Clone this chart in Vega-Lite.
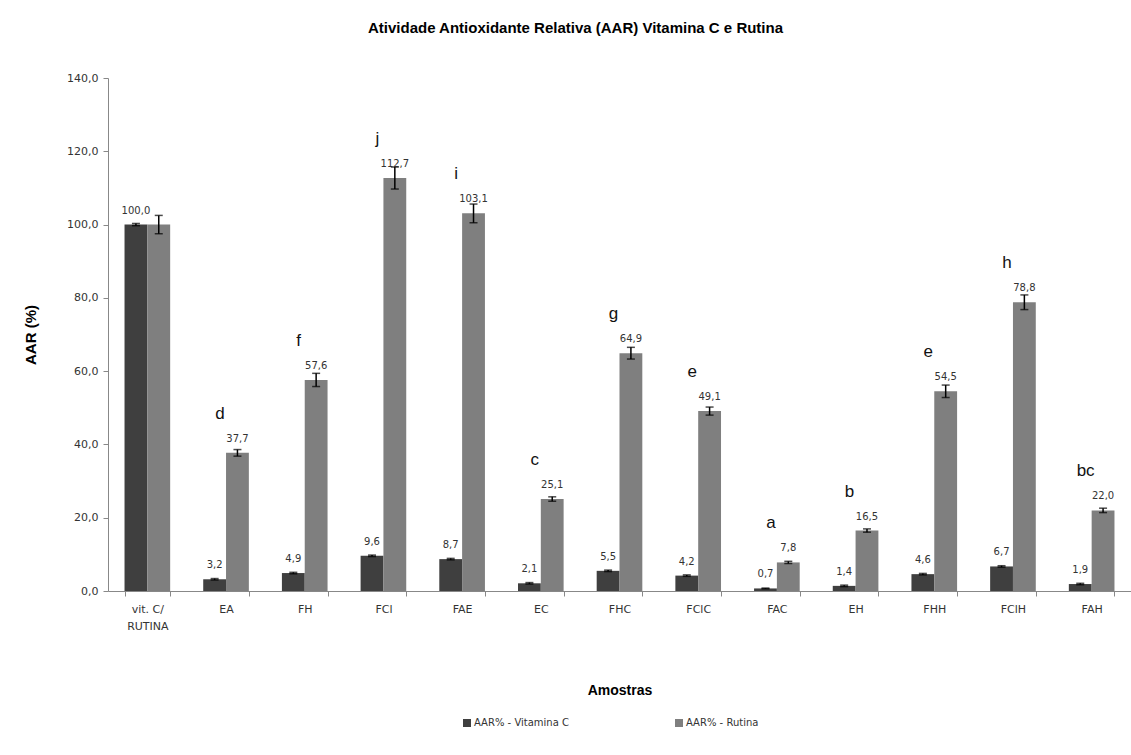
{
  "$schema": "https://vega.github.io/schema/vega-lite/v6.json",
  "autosize": {"type": "none"},
  "padding": {"left": 108, "top": 78, "right": 0, "bottom": 164},
  "width": 1023,
  "height": 513,
  "background": "white",
  "title": {
    "text": "Atividade Antioxidante Relativa (AAR) Vitamina C e Rutina",
    "font": "Liberation Sans",
    "fontSize": 15,
    "fontWeight": "bold",
    "color": "#000000",
    "anchor": "middle",
    "offset": 36,
    "dx": -44
  },
  "data": {
    "values": [
      {"amostra": "vit. C/ RUTINA", "serie": "AAR% - Vitamina C", "valor": 100.0, "lo": 99.7, "hi": 100.3, "rotulo": "100,0", "letra": null},
      {"amostra": "vit. C/ RUTINA", "serie": "AAR% - Rutina", "valor": 100.0, "lo": 97.5, "hi": 102.5, "rotulo": null, "letra": null},
      {"amostra": "EA", "serie": "AAR% - Vitamina C", "valor": 3.2, "lo": 3.0, "hi": 3.4, "rotulo": "3,2", "letra": null},
      {"amostra": "EA", "serie": "AAR% - Rutina", "valor": 37.7, "lo": 36.8, "hi": 38.6, "rotulo": "37,7", "letra": "d"},
      {"amostra": "FH", "serie": "AAR% - Vitamina C", "valor": 4.9, "lo": 4.7, "hi": 5.1, "rotulo": "4,9", "letra": null},
      {"amostra": "FH", "serie": "AAR% - Rutina", "valor": 57.6, "lo": 55.8, "hi": 59.4, "rotulo": "57,6", "letra": "f"},
      {"amostra": "FCl", "serie": "AAR% - Vitamina C", "valor": 9.6, "lo": 9.4, "hi": 9.8, "rotulo": "9,6", "letra": null},
      {"amostra": "FCl", "serie": "AAR% - Rutina", "valor": 112.7, "lo": 109.7, "hi": 115.7, "rotulo": "112,7", "letra": "j"},
      {"amostra": "FAE", "serie": "AAR% - Vitamina C", "valor": 8.7, "lo": 8.5, "hi": 8.9, "rotulo": "8,7", "letra": null},
      {"amostra": "FAE", "serie": "AAR% - Rutina", "valor": 103.1, "lo": 100.5, "hi": 105.6, "rotulo": "103,1", "letra": "i"},
      {"amostra": "EC", "serie": "AAR% - Vitamina C", "valor": 2.1, "lo": 1.9, "hi": 2.3, "rotulo": "2,1", "letra": null},
      {"amostra": "EC", "serie": "AAR% - Rutina", "valor": 25.1, "lo": 24.5, "hi": 25.7, "rotulo": "25,1", "letra": "c"},
      {"amostra": "FHC", "serie": "AAR% - Vitamina C", "valor": 5.5, "lo": 5.3, "hi": 5.7, "rotulo": "5,5", "letra": null},
      {"amostra": "FHC", "serie": "AAR% - Rutina", "valor": 64.9, "lo": 63.3, "hi": 66.5, "rotulo": "64,9", "letra": "g"},
      {"amostra": "FClC", "serie": "AAR% - Vitamina C", "valor": 4.2, "lo": 4.0, "hi": 4.4, "rotulo": "4,2", "letra": null},
      {"amostra": "FClC", "serie": "AAR% - Rutina", "valor": 49.1, "lo": 48.0, "hi": 50.2, "rotulo": "49,1", "letra": "e"},
      {"amostra": "FAC", "serie": "AAR% - Vitamina C", "valor": 0.7, "lo": 0.6, "hi": 0.8, "rotulo": "0,7", "letra": null},
      {"amostra": "FAC", "serie": "AAR% - Rutina", "valor": 7.8, "lo": 7.5, "hi": 8.1, "rotulo": "7,8", "letra": "a"},
      {"amostra": "EH", "serie": "AAR% - Vitamina C", "valor": 1.4, "lo": 1.2, "hi": 1.6, "rotulo": "1,4", "letra": null},
      {"amostra": "EH", "serie": "AAR% - Rutina", "valor": 16.5, "lo": 16.05, "hi": 16.95, "rotulo": "16,5", "letra": "b"},
      {"amostra": "FHH", "serie": "AAR% - Vitamina C", "valor": 4.6, "lo": 4.4, "hi": 4.8, "rotulo": "4,6", "letra": null},
      {"amostra": "FHH", "serie": "AAR% - Rutina", "valor": 54.5, "lo": 52.8, "hi": 56.2, "rotulo": "54,5", "letra": "e"},
      {"amostra": "FClH", "serie": "AAR% - Vitamina C", "valor": 6.7, "lo": 6.5, "hi": 6.9, "rotulo": "6,7", "letra": null},
      {"amostra": "FClH", "serie": "AAR% - Rutina", "valor": 78.8, "lo": 76.8, "hi": 80.8, "rotulo": "78,8", "letra": "h"},
      {"amostra": "FAH", "serie": "AAR% - Vitamina C", "valor": 1.9, "lo": 1.7, "hi": 2.1, "rotulo": "1,9", "letra": null},
      {"amostra": "FAH", "serie": "AAR% - Rutina", "valor": 22.0, "lo": 21.4, "hi": 22.6, "rotulo": "22,0", "letra": "bc"}
    ]
  },
  "encoding": {
    "x": {
      "field": "amostra",
      "type": "nominal",
      "sort": null,
      "scale": {"paddingInner": 0.42, "paddingOuter": 0.21},
      "axis": {
        "title": "Amostras",
        "titleFont": "Liberation Sans",
        "titleFontSize": 14,
        "titleFontWeight": "bold",
        "titleColor": "#000000",
        "titlePadding": 52,
        "labelAngle": 0,
        "labelFont": "DejaVu Sans",
        "labelFontSize": 11,
        "labelColor": "#333333",
        "labelPadding": 7,
        "labelLineHeight": 17,
        "labelExpr": "datum.label == 'vit. C/ RUTINA' ? ['vit. C/', 'RUTINA'] : datum.label",
        "tickBand": "extent",
        "tickSize": 5,
        "tickColor": "#888888",
        "domainColor": "#888888",
        "grid": false
      }
    },
    "y": {
      "type": "quantitative",
      "scale": {"domain": [0, 140], "nice": false},
      "axis": {
        "title": "AAR (%)",
        "titleFont": "Liberation Sans",
        "titleFontSize": 15,
        "titleFontWeight": "bold",
        "titleColor": "#000000",
        "titlePadding": 28,
        "values": [0, 20, 40, 60, 80, 100, 120, 140],
        "format": ".1f",
        "labelFont": "DejaVu Sans",
        "labelFontSize": 11,
        "labelColor": "#333333",
        "labelPadding": 5,
        "tickSize": 5,
        "tickColor": "#888888",
        "domainColor": "#888888",
        "grid": false
      }
    }
  },
  "layer": [
    {
      "mark": {"type": "bar"},
      "encoding": {
        "y": {"field": "valor", "type": "quantitative"},
        "xOffset": {"field": "serie", "type": "nominal", "sort": ["AAR% - Vitamina C", "AAR% - Rutina"], "scale": {"paddingInner": 0, "paddingOuter": 0}},
        "color": {
          "field": "serie",
          "type": "nominal",
          "sort": ["AAR% - Vitamina C", "AAR% - Rutina"],
          "scale": {"domain": ["AAR% - Vitamina C", "AAR% - Rutina"], "range": ["#3f3f3f", "#7f7f7f"]},
          "legend": {
            "title": null,
            "orient": "none",
            "legendX": 354,
            "legendY": 640,
            "direction": "horizontal",
            "symbolType": "square",
            "symbolSize": 64,
            "symbolStrokeWidth": 0,
            "labelFont": "DejaVu Sans",
            "labelFontSize": 10,
            "labelColor": "#333333",
            "labelOffset": 2,
            "columnPadding": 105
          }
        }
      }
    },
    {
      "mark": {"type": "rule", "color": "#000000", "strokeWidth": 1.5},
      "encoding": {
        "y": {"field": "lo", "type": "quantitative"},
        "y2": {"field": "hi"},
        "xOffset": {"field": "serie", "type": "nominal", "sort": ["AAR% - Vitamina C", "AAR% - Rutina"], "scale": {"paddingInner": 0, "paddingOuter": 0}}
      }
    },
    {
      "mark": {"type": "tick", "color": "#000000", "size": 8, "thickness": 1.5},
      "encoding": {
        "y": {"field": "lo", "type": "quantitative"},
        "xOffset": {"field": "serie", "type": "nominal", "sort": ["AAR% - Vitamina C", "AAR% - Rutina"], "scale": {"paddingInner": 0, "paddingOuter": 0}}
      }
    },
    {
      "mark": {"type": "tick", "color": "#000000", "size": 8, "thickness": 1.5},
      "encoding": {
        "y": {"field": "hi", "type": "quantitative"},
        "xOffset": {"field": "serie", "type": "nominal", "sort": ["AAR% - Vitamina C", "AAR% - Rutina"], "scale": {"paddingInner": 0, "paddingOuter": 0}}
      }
    },
    {
      "transform": [{"filter": "datum.rotulo != null"}],
      "mark": {"type": "text", "font": "DejaVu Sans", "fontSize": 10, "color": "#333333", "baseline": "middle", "dy": -14},
      "encoding": {
        "y": {"field": "valor", "type": "quantitative"},
        "text": {"field": "rotulo", "type": "nominal"},
        "xOffset": {"field": "serie", "type": "nominal", "sort": ["AAR% - Vitamina C", "AAR% - Rutina"], "scale": {"paddingInner": 0, "paddingOuter": 0}}
      }
    },
    {
      "transform": [{"filter": "datum.letra != null"}],
      "mark": {"type": "text", "font": "Liberation Sans", "fontSize": 17, "color": "#111111", "baseline": "middle", "dx": -6, "dy": -39},
      "encoding": {
        "y": {"field": "valor", "type": "quantitative"},
        "text": {"field": "letra", "type": "nominal"}
      }
    }
  ],
  "config": {
    "view": {"stroke": null},
    "locale": {"number": {"decimal": ",", "thousands": ".", "grouping": [3], "currency": ["", ""]}}
  }
}
